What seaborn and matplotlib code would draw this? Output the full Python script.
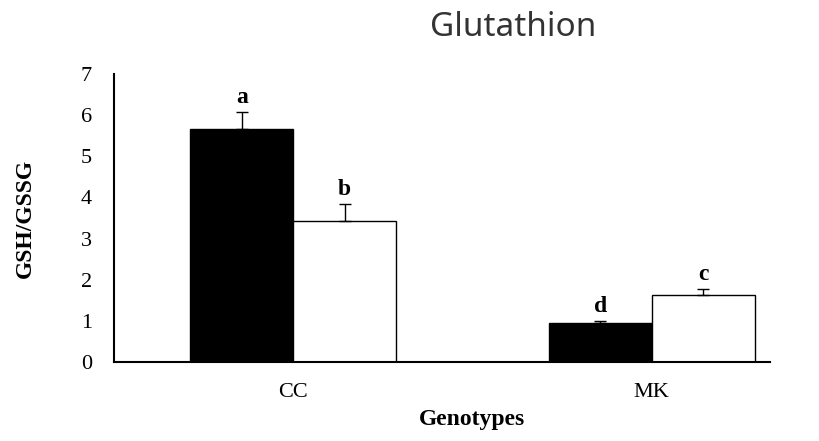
import matplotlib
matplotlib.use("Agg")
import matplotlib.pyplot as plt
import seaborn as sns
import pandas as pd
import numpy as np

genotypes = ["CC", "MK"]
treatments = ["T1", "T2"]
values_t1 = [5.66, 0.95]
values_t2 = [3.42, 1.62]
errors_t1 = [0.42, 0.04]
errors_t2 = [0.42, 0.16]
letters_t1 = ["a", "d"]
letters_t2 = ["b", "c"]

df = pd.DataFrame({
    "Genotype": genotypes * 2,
    "Treatment": [treatments[0]] * 2 + [treatments[1]] * 2,
    "Value": values_t1 + values_t2,
})

sns.set_style("white")
plt.rcParams["font.family"] = ["Liberation Serif", "DejaVu Serif"]
plt.rcParams["text.color"] = "black"
plt.rcParams["axes.labelcolor"] = "black"
plt.rcParams["xtick.color"] = "black"
plt.rcParams["ytick.color"] = "black"

fig = plt.figure(figsize=(8.19, 4.41), dpi=100)
ax = fig.add_axes([114/819, 1 - 362/441, (770-114)/819, (362-74)/441])

sns.barplot(data=df, x="Genotype", y="Value", hue="Treatment",
            palette={"T1": "black", "T2": "white"}, width=0.575,
            edgecolor="black", linewidth=1.0, errorbar=None, legend=False, ax=ax)

errs = {"T1": errors_t1, "T2": errors_t2}
vals = {"T1": values_t1, "T2": values_t2}
lets = {"T1": letters_t1, "T2": letters_t2}
for cont, tr in zip(ax.containers, treatments):
    for i, bar in enumerate(cont):
        xc = bar.get_x() + bar.get_width() / 2
        v = vals[tr][i]
        e = errs[tr][i]
        ax.errorbar([xc], [v], yerr=[[0], [e]], fmt="none", ecolor="black",
                    elinewidth=1.0, capsize=4.5, capthick=1.0)
        ax.text(xc, v + e + 0.1, lets[tr][i], ha="center", va="bottom",
                fontsize=17, fontweight="bold")

ax.set_xlim(-0.5, 1.33)
ax.set_ylim(0, 7)
ax.set_yticks(range(0, 8))
ax.tick_params(axis="y", direction="in", length=6, width=1, labelsize=16, pad=16)
ax.tick_params(axis="x", length=0, labelsize=16, pad=15)
for s in ["top", "right"]:
    ax.spines[s].set_visible(False)
for s in ["left", "bottom"]:
    ax.spines[s].set_linewidth(1.5)
    ax.spines[s].set_color("black")

ax.set_xlabel("Genotypes", fontsize=17, fontweight="bold")
ax.xaxis.set_label_coords((472 - 114) / 656, -(419 - 362) / 288)
ax.xaxis.label.set_va("center")
ax.set_ylabel("GSH/GSSG", fontsize=17, fontweight="bold", labelpad=32)

fig.text(513/819, 1 - 27/441, "Glutathion", ha="center", va="center",
         fontsize=24, fontweight="medium", color="#333333",
         family=["Noto Sans", "DejaVu Sans"])

fig.savefig("out.png", dpi=100)
